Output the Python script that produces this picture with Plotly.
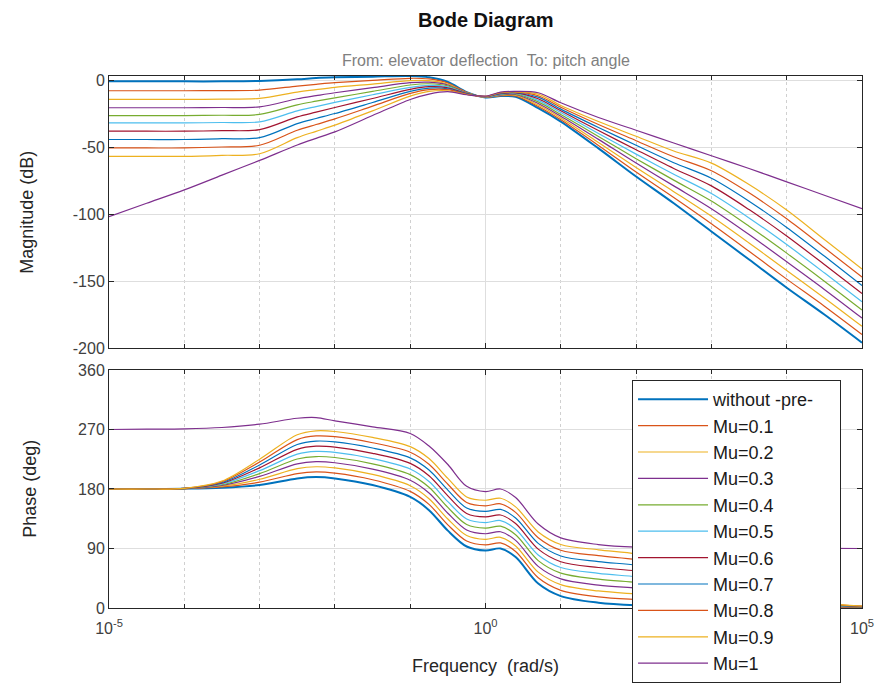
import plotly.graph_objects as go

# ---------------- data ----------------
freq = [1e-5, 3.162e-5, 1e-4, 3.162e-4, 1e-3, 3.162e-3, 5.623e-3, 1e-2, 3.162e-2, 0.1,
        0.1778, 0.3162, 0.5623, 1.0, 1.585, 2.512, 5.012, 10.0, 31.62, 100.0,
        316.2, 1000.0, 3162.0, 1e4, 3.162e4, 1e5]

names = ["without -pre-", "Mu=0.1", "Mu=0.2", "Mu=0.3", "Mu=0.4", "Mu=0.5",
         "Mu=0.6", "Mu=0.7", "Mu=0.8", "Mu=0.9", "Mu=1"]

colors = ["#0072BD", "#D95319", "#EDB120", "#7E2F8E", "#77AC30", "#4DBEEE",
          "#A2142F", "#0072BD", "#D95319", "#EDB120", "#7E2F8E"]

mag_without = [-1, -1, -1, -1, -0.7, 0.5, 1.5, 2, 2.5, 3, 2, -1.5, -9, -13, -12, -12.5, -21, -31, -51, -72, -92, -113, -134, -155, -175, -196]
mag_mu01 = [-8, -8, -8, -7.9, -7.5, -4.5, -3.2, -2, -0.3, 1.3, 0.8, -2.2, -9.2, -12.9, -11.7, -11.9, -19.8, -29.7, -48.8, -68.7, -87.7, -107.3, -127.8, -148.6, -168.8, -189.9]
mag_mu02 = [-14.5, -14.5, -14.5, -14.3, -13.7, -9, -7.2, -5.5, -3, -0.5, -0.4, -3, -9.4, -12.8, -11.4, -11.3, -18.7, -28.3, -46.6, -65.3, -83.3, -101.7, -121.6, -142.1, -162.6, -183.8]
mag_mu03 = [-20.7, -20.7, -20.7, -20.5, -20, -14, -11.7, -9.5, -5.7, -2, -1.6, -3.7, -9.6, -12.7, -11.1, -10.8, -17.5, -27, -44.3, -62, -79, -96, -115.3, -135.7, -156.3, -177.7]
mag_mu04 = [-26.5, -26.5, -26.5, -26.3, -25.7, -18.5, -15.8, -13.3, -8.5, -3.7, -2.8, -4.4, -9.8, -12.6, -10.8, -10.3, -16.3, -25.7, -42.1, -58.7, -74.7, -90.3, -109.1, -129.2, -150.1, -171.6]
mag_mu05 = [-32, -32, -32, -31.7, -31.2, -23, -19.8, -16.7, -11, -5.5, -4, -5.1, -10, -12.5, -10.5, -9.9, -15.2, -24.3, -39.9, -55.3, -70.3, -84.7, -102.9, -122.8, -143.9, -165.5]
mag_mu06 = [-38.2, -38.2, -38.2, -37.8, -37, -27.5, -24, -20.5, -13.8, -7, -5, -5.8, -10.2, -12.4, -10.2, -9.6, -14, -23, -37.7, -52, -66, -79, -96.7, -116.4, -137.7, -159.4]
mag_mu07 = [-44.4, -44.4, -44.4, -43.8, -43, -32.5, -28.7, -25, -16.8, -8.5, -6, -6.5, -10.4, -12.3, -9.9, -9.3, -12.8, -21.7, -35.4, -48.7, -61.7, -73.3, -90.4, -110, -131.4, -153.3]
mag_mu08 = [-50.7, -50.7, -50.7, -50, -48.7, -37.5, -33.2, -29, -19.5, -10, -7.2, -7.2, -10.6, -12.2, -9.6, -9, -11.7, -20.3, -33.2, -45.3, -57.3, -67.7, -84.2, -103.6, -125.2, -147.1]
mag_mu09 = [-57, -57, -57, -56.2, -55, -43, -38.3, -33.7, -23, -12, -8.5, -8, -10.8, -12.1, -9.3, -8.8, -10.5, -19, -31, -42, -53, -62, -78, -97, -119, -141]
mag_mu1 = [-102, -92, -82, -71, -60, -48.5, -43.5, -38.7, -26.5, -14.5, -10.5, -8.7, -11, -12, -9, -8.5, -9.5, -17, -28, -37.5, -47, -56.5, -66, -76, -86, -96]

ph_without = [180, 180, 180.5, 182, 186, 196, 198, 196, 186, 168, 148, 117, 93, 87, 90, 77, 37, 18, 8, 4, 2.5, 2, 1.5, 1, 0.8, 0.5]
ph_mu01 = [180, 180, 180.6, 183.1, 190.3, 203.3, 205.8, 203.9, 194, 176.4, 156.7, 125.8, 101.3, 95.4, 98.4, 85.4, 45.7, 26.7, 16.9, 12.7, 10, 7.3, 4.7, 2.6, 1.5, 0.8]
ph_mu02 = [180, 180, 180.6, 184.2, 194.7, 210.7, 213.6, 211.8, 202, 184.9, 165.3, 134.6, 109.7, 103.9, 106.9, 93.9, 54.3, 35.3, 25.8, 21.3, 17.5, 12.7, 7.8, 4.1, 2.2, 1.1]
ph_mu03 = [180, 180, 180.7, 185.3, 199, 218, 221.3, 219.7, 210, 193.3, 174, 143.3, 118, 112.3, 115.3, 102.3, 63, 44, 34.7, 30, 25, 18, 11, 5.7, 2.9, 1.3]
ph_mu04 = [180, 180, 180.7, 186.4, 203.3, 225.3, 229.1, 227.6, 218, 201.8, 182.7, 152.1, 126.3, 120.8, 123.8, 110.8, 71.7, 52.7, 43.6, 38.7, 32.5, 23.3, 14.2, 7.2, 3.6, 1.6]
ph_mu05 = [180, 180, 180.8, 187.6, 207.7, 232.7, 236.9, 235.4, 226, 210.2, 191.3, 160.9, 134.7, 129.2, 132.2, 119.2, 80.3, 61.3, 52.4, 47.3, 40, 28.7, 17.3, 8.8, 4.2, 1.9]
ph_mu06 = [180, 180, 180.8, 188.7, 212, 240, 244.7, 243.3, 234, 218.7, 200, 169.7, 143, 137.7, 140.7, 127.7, 89, 70, 61.3, 56, 47.5, 34, 20.5, 10.3, 4.9, 2.2]
ph_mu07 = [180, 180, 180.9, 189.8, 216.3, 247.3, 252.4, 251.2, 242, 227.1, 208.7, 178.4, 151.3, 146.1, 149.1, 136.1, 97.7, 78.7, 70.2, 64.7, 55, 39.3, 23.7, 11.9, 5.6, 2.4]
ph_mu08 = [180, 180, 180.9, 190.9, 220.7, 254.7, 260.2, 259.1, 250, 235.6, 217.3, 187.2, 159.7, 154.6, 157.6, 144.6, 106.3, 87.3, 79.1, 73.3, 62.5, 44.7, 26.8, 13.4, 6.3, 2.7]
ph_mu09 = [180, 180, 181, 192, 225, 262, 268, 267, 258, 244, 226, 196, 168, 163, 166, 153, 115, 96, 88, 82, 70, 50, 30, 15, 7, 3]
ph_mu1 = [270, 270.5, 271, 273, 278, 287, 288, 283, 274, 264, 245, 217, 184, 176, 180, 167, 127, 106, 96, 92, 91, 90.5, 90.3, 90.2, 90.1, 90]

mags = [mag_without, mag_mu01, mag_mu02, mag_mu03, mag_mu04, mag_mu05,
        mag_mu06, mag_mu07, mag_mu08, mag_mu09, mag_mu1]
phases = [ph_without, ph_mu01, ph_mu02, ph_mu03, ph_mu04, ph_mu05,
          ph_mu06, ph_mu07, ph_mu08, ph_mu09, ph_mu1]

mag_ticks = [0, -50, -100, -150, -200]
mag_tick_text = ["0", "-50", "-100", "-150", "-200"]
phase_ticks = [0, 90, 180, 270, 360]
phase_tick_text = ["0", "90", "180", "270", "360"]
major_freq_ticks = [1e-5, 1, 1e5]
major_freq_text = ["10<sup>-5</sup>", "10<sup>0</sup>", "10<sup>5</sup>"]
minor_freq_ticks = [1e-4, 1e-3, 1e-2, 1e-1, 1e1, 1e2, 1e3, 1e4]

# ---------------- figure ----------------
FONT = "Liberation Sans, Arial, sans-serif"
fig = go.Figure()

for i, name in enumerate(names):
    w = 2.0 if i == 0 else 1.2
    # trailing no-break spaces only widen the legend box like the reference
    label = name + "\u00a0" * 4 if i == 0 else name
    fig.add_trace(go.Scatter(
        x=freq, y=mags[i], mode="lines", name=label,
        line=dict(color=colors[i], width=w, shape="spline", smoothing=0.9),
        xaxis="x", yaxis="y", legendgroup=name, showlegend=True))
for i, name in enumerate(names):
    w = 2.0 if i == 0 else 1.2
    fig.add_trace(go.Scatter(
        x=freq, y=phases[i], mode="lines", name=name,
        line=dict(color=colors[i], width=w, shape="spline", smoothing=0.9),
        xaxis="x2", yaxis="y2", legendgroup=name, showlegend=False))

axis_common = dict(
    showline=True, linecolor="#262626", linewidth=1, mirror="allticks",
    ticks="inside", ticklen=5, tickcolor="#262626",
    gridcolor="#dedede", gridwidth=1, showgrid=True, zeroline=False,
    tickfont=dict(family=FONT, size=16, color="#404040"),
)

xminor = dict(tickvals=minor_freq_ticks, ticks="inside", ticklen=4,
              tickcolor="#262626", showgrid=True, griddash="dot",
              gridcolor="#d0d0d0", gridwidth=1)

fig.update_layout(
    width=882, height=684,
    margin=dict(l=109, r=20, t=76, b=76, autoexpand=False),
    paper_bgcolor="white", plot_bgcolor="white",
    font=dict(family=FONT, color="#262626"),
    xaxis=dict(type="log", range=[-5, 5], domain=[0, 1], anchor="y",
               tickvals=major_freq_ticks, ticktext=major_freq_text,
               showticklabels=False, minor=xminor, **axis_common),
    yaxis=dict(range=[-200, 3], domain=[0.4887, 1], anchor="x",
               tickvals=mag_ticks, ticktext=mag_tick_text, **axis_common),
    xaxis2=dict(type="log", range=[-5, 5], domain=[0, 1], anchor="y2",
                matches="x", tickvals=major_freq_ticks, ticktext=major_freq_text,
                showticklabels=True, ticklabelstandoff=6, minor=xminor,
                **axis_common),
    yaxis2=dict(range=[0, 360], domain=[0, 0.4474], anchor="x2",
                tickvals=phase_ticks, ticktext=phase_tick_text, **axis_common),
    legend=dict(x=0.6946, y=0.4286, xanchor="left", yanchor="top",
                bgcolor="white", bordercolor="#262626", borderwidth=1,
                font=dict(family=FONT, size=18, color="#1a1a1a"),
                tracegroupgap=0, itemwidth=70),
    showlegend=True,
)

annotations = [
    dict(text="<b>Bode Diagram</b>", x=0.5, y=1.105, xref="paper", yref="paper",
         showarrow=False, font=dict(family=FONT, size=20, color="#111111"),
         xanchor="center", yanchor="middle"),
    dict(text="From: elevator deflection  To: pitch angle", x=0.5, y=1.030,
         xref="paper", yref="paper", showarrow=False,
         font=dict(family=FONT, size=16, color="#808080"),
         xanchor="center", yanchor="middle"),
    dict(text="Magnitude (dB)", x=-0.108, y=0.744, xref="paper", yref="paper",
         showarrow=False, textangle=-90,
         font=dict(family=FONT, size=18, color="#262626"),
         xanchor="center", yanchor="middle"),
    dict(text="Phase (deg)", x=-0.105, y=0.224, xref="paper", yref="paper",
         showarrow=False, textangle=-90,
         font=dict(family=FONT, size=18, color="#262626"),
         xanchor="center", yanchor="middle"),
    dict(text="Frequency  (rad/s)", x=0.5, y=-0.109, xref="paper", yref="paper",
         showarrow=False, font=dict(family=FONT, size=18, color="#262626"),
         xanchor="center", yanchor="middle"),
]
fig.update_layout(annotations=annotations)

fig.write_html("out.html")
